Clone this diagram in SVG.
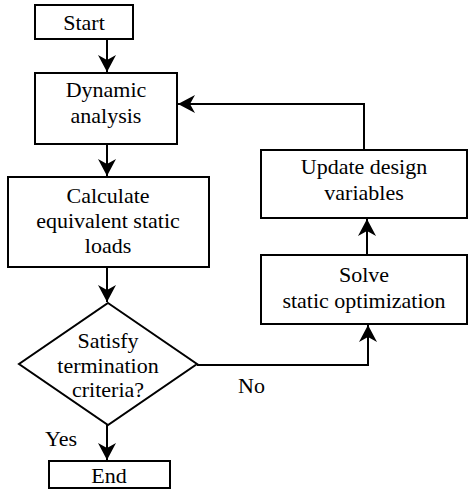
<svg xmlns="http://www.w3.org/2000/svg" width="470" height="496" viewBox="0 0 470 496">
<defs>
<style>
.box{fill:#fff;stroke:#000;stroke-width:2}
.t{font-family:'Liberation Serif','DejaVu Serif',serif;font-size:22px;fill:#000;text-anchor:middle}
.l{font-family:'Liberation Serif','DejaVu Serif',serif;font-size:22px;fill:#000}
.c{fill:none;stroke:#000;stroke-width:2}
</style>
<marker id="ah" markerUnits="userSpaceOnUse" markerWidth="20" markerHeight="20" viewBox="-18 -10 20 20" refX="0" refY="0" orient="auto">
<path d="M0,0 L-17,-9 L-12,0 L-17,9 Z" fill="#000"/>
</marker>
</defs>
<g id="connectors">
<line class="c" x1="107" y1="39" x2="107" y2="72" marker-end="url(#ah)"/>
<line class="c" x1="107" y1="144" x2="107" y2="176" marker-end="url(#ah)"/>
<line class="c" x1="107" y1="267" x2="107" y2="302" marker-end="url(#ah)"/>
<line class="c" x1="107" y1="425" x2="107" y2="460" marker-end="url(#ah)"/>
<polyline class="c" points="197,365 368,365 368,325" marker-end="url(#ah)"/>
<line class="c" x1="367" y1="255" x2="367" y2="219" marker-end="url(#ah)"/>
<polyline class="c" points="364,150 364,104 178,104" marker-end="url(#ah)"/>
</g>
<g id="start">
<rect class="box" x="35" y="5" width="98" height="34"/>
<text class="t" x="84" y="30" font-family="Liberation Serif, serif">Start</text>
</g>
<g id="dynamic">
<rect class="box" x="35" y="73" width="142" height="71"/>
<text class="t" x="106" y="97">Dynamic</text>
<text class="t" x="106" y="123">analysis</text>
</g>
<g id="calculate">
<rect class="box" x="8" y="177" width="201" height="90"/>
<text class="t" x="108" y="203">Calculate</text>
<text class="t" x="108" y="228">equivalent static</text>
<text class="t" x="108" y="253">loads</text>
</g>
<g id="decision">
<polygon class="box" points="108,303 197,364 108,425 19,364"/>
<text class="t" x="108" y="348">Satisfy</text>
<text class="t" x="108" y="373">termination</text>
<text class="t" x="108" y="397">criteria?</text>
</g>
<g id="end">
<rect class="box" x="49" y="461" width="121" height="27"/>
<text class="t" x="109" y="483">End</text>
</g>
<g id="update">
<rect class="box" x="261" y="150" width="206" height="68"/>
<text class="t" x="364" y="174">Update design</text>
<text class="t" x="364" y="200">variables</text>
</g>
<g id="solve">
<rect class="box" x="261" y="255" width="206" height="69"/>
<text class="t" x="364" y="282">Solve</text>
<text class="t" x="364" y="308">static optimization</text>
</g>
<g id="labels">
<text class="l" x="238" y="393">No</text>
<text class="l" x="45" y="446">Yes</text>
</g>
</svg>
